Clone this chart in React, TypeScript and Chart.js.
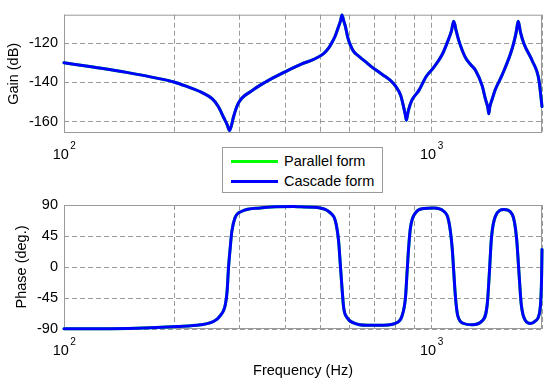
import React, { useEffect, useRef } from "react";
import { Chart, registerables } from "chart.js";

Chart.register(...registerables);

// ---- data ----
const gainFreqHz = [
  100, 120, 148, 183, 199, 214, 237, 253, 263, 272,
  278, 282, 286, 289, 298, 325, 353, 400, 444, 478,
  509, 525, 536, 548, 559, 566, 571, 577, 583, 592,
  602, 614, 634, 660, 689, 718, 749, 772, 798, 825,
  840, 849, 855, 861, 867, 885, 924, 968, 1015, 1070,
  1115, 1134, 1150, 1168, 1187, 1238, 1280, 1318, 1375, 1402,
  1425, 1433, 1442, 1464, 1490, 1558, 1660, 1701, 1723, 1748,
  1785, 1881, 1961, 2000,
];
const gainDb = [
  -130, -132.2, -134.9, -138.2, -139.8, -141.8, -145.1, -148.3, -152.3, -157.9,
  -161.5, -164.5, -161.5, -157.9, -150.7, -144.2, -139.9, -134.6, -130.6, -128.3,
  -125.3, -122.6, -119.7, -116.1, -111.5, -108.5, -105.6, -108.5, -111.3, -117,
  -121, -124.2, -126.6, -129.3, -132.2, -134.6, -137, -138.9, -141.8, -146.7,
  -152.5, -156.5, -159.3, -156.5, -153.9, -149.1, -144.2, -137, -132.3, -125.8,
  -117.7, -113.7, -108.9, -113.7, -118.6, -127.4, -131, -133.8, -141.8, -148.3,
  -153, -156, -152.5, -148.5, -144, -136.2, -122.6, -114.5, -108.9, -114.5,
  -120.2, -129, -138.6, -152.3,
];
const phaseFreqHz = [
  100, 158, 203, 235, 255, 266, 275, 278, 280.4, 283.4,
  286.4, 292, 305, 342, 422, 440, 498, 531, 548, 559,
  565, 571, 577, 589, 614, 668, 741, 807, 832, 850,
  859, 867, 877, 905, 953, 1015, 1080, 1115, 1139, 1150,
  1163, 1180, 1225, 1291, 1375, 1419, 1439, 1457, 1494, 1574,
  1660, 1705, 1730, 1756, 1804, 1861, 1920, 1973, 1994, 2000,
];
const phaseDeg = [
  -89.7, -88.8, -86.4, -83.9, -79.1, -70.9, -54.1, -34.7, -1, 27.9,
  52.1, 71.3, 81, 85.8, 87.7, 87.3, 85.8, 78.6, 66.5, 37.6,
  3.8, -30, -58.9, -73.4, -81, -84.5, -84.5, -80.6, -70.9, -44.4,
  -5.8, 27.9, 56.9, 78.6, 84.8, 85.8, 81, 66.5, 27.9, -5.8,
  -44.4, -70.9, -82, -83.9, -78.1, -54.1, -5.8, 42.4, 73.8, 83.3,
  76.1, 42.4, -5.8, -54.1, -78.1, -82, -78.1, -63.7, -20.3, 25.5,
];
const freqGridHz = [100, 200, 300, 400, 500, 600, 700, 800, 900, 1000, 2000];
const decadeLabels = [
  { value: 100, base: "10", exp: "2" },
  { value: 1000, base: "10", exp: "3" },
];
const gainTicks = [-160, -140, -120];
const phaseTicks = [-90, -45, 0, 45, 90];
const seriesNames = ["Parallel form", "Cascade form"];
const seriesColors = ["#00ff00", "#0000ff"];

const FONT = "Arial, 'Liberation Sans', sans-serif";
const FS = 14.5;
const GRID = "#9a9a9a";

const framePlugin = {
  id: "frame",
  beforeDatasetsDraw(chart: any) {
    const { ctx, chartArea: a } = chart;
    ctx.save();
    ctx.strokeStyle = GRID;
    ctx.lineWidth = 1;
    ctx.setLineDash([]);
    ctx.strokeRect(a.left + 0.5, a.top + 0.5, a.right - a.left - 1, a.bottom - a.top - 1);
    ctx.restore();
  },
  afterDraw(chart: any) {
    const { ctx, chartArea: a } = chart;
    const xs = chart.scales.x;
    ctx.save();
    ctx.fillStyle = "#000";
    ctx.textBaseline = "alphabetic";
    ctx.textAlign = "left";
    for (const d of decadeLabels) {
      const px = xs.getPixelForValue(d.value);
      ctx.font = `${FS}px ${FONT}`;
      const w1 = ctx.measureText(d.base).width;
      ctx.font = `10px ${FONT}`;
      const w2 = ctx.measureText(d.exp).width;
      const start = px - (w1 + w2 + 1) / 2;
      ctx.font = `${FS}px ${FONT}`;
      ctx.fillText(d.base, start, a.bottom + 26);
      ctx.font = `10px ${FONT}`;
      ctx.fillText(d.exp, start + w1 + 1.5, a.bottom + 15.5);
    }
    ctx.restore();
  },
};

function makeConfig(
  freqs: number[],
  vals: number[],
  yMin: number,
  yMax: number,
  yTickVals: number[],
  yTitle: string,
  yTitlePad: number,
  canvasH: number,
  plotTop: number,
  plotBottom: number,
  xTitle: string | null
): any {
  const pts = freqs.map((f, i) => ({ x: f, y: vals[i] }));
  return {
    type: "line",
    data: {
      datasets: seriesNames.map((name, i) => ({
        label: name,
        data: pts,
        borderColor: seriesColors[i],
        backgroundColor: seriesColors[i],
        borderWidth: 3,
        borderJoinStyle: "round",
        borderCapStyle: "round",
        pointRadius: 0,
        fill: false,
        cubicInterpolationMode: "monotone",
        clip: false,
        order: i === 1 ? 0 : 1,
      })),
    },
    options: {
      animation: false,
      responsive: false,
      events: [],
      layout: { padding: { left: 0, right: 8, top: plotTop, bottom: 0 } },
      plugins: { legend: { display: false }, tooltip: { enabled: false } },
      scales: {
        x: {
          type: "logarithmic",
          min: 100,
          max: 2000,
          afterBuildTicks: (s: any) => {
            s.ticks = freqGridHz.map((v) => ({ value: v }));
          },
          afterFit: (s: any) => {
            s.height = canvasH - plotBottom;
          },
          ticks: { display: false },
          grid: { color: GRID, drawTicks: false, lineWidth: 1 },
          border: { display: false, dash: [5, 3] },
          title: xTitle
            ? {
                display: true,
                text: xTitle,
                color: "#000",
                font: { family: FONT, size: FS },
                padding: { top: 0, bottom: 5.3 },
              }
            : { display: false },
        },
        y: {
          type: "linear",
          min: yMin,
          max: yMax,
          afterBuildTicks: (s: any) => {
            s.ticks = yTickVals.map((v) => ({ value: v }));
          },
          afterFit: (s: any) => {
            s.width = 64;
          },
          ticks: {
            color: "#000",
            font: { family: FONT, size: FS },
            padding: 6,
          },
          grid: { color: GRID, drawTicks: false, lineWidth: 1 },
          border: { display: false, dash: [5, 3] },
          title: {
            display: true,
            text: yTitle,
            color: "#000",
            font: { family: FONT, size: FS },
            padding: { top: yTitlePad, bottom: 0 },
          },
        },
      },
    },
    plugins: [framePlugin],
  };
}

export default function App() {
  const topRef = useRef<HTMLCanvasElement | null>(null);
  const botRef = useRef<HTMLCanvasElement | null>(null);

  useEffect(() => {
    const c1 = new Chart(
      topRef.current as HTMLCanvasElement,
      makeConfig(gainFreqHz, gainDb, -165.8, -105.5, gainTicks, "Gain (dB)", 5.5, 160, 8, 133, null)
    );
    const c2 = new Chart(
      botRef.current as HTMLCanvasElement,
      makeConfig(phaseFreqHz, phaseDeg, -90, 90, phaseTicks, "Phase (deg.)", 13.3, 195, 15, 139, "Frequency (Hz)")
    );
    return () => {
      c1.destroy();
      c2.destroy();
    };
  }, []);

  return (
    <div
      style={{
        position: "fixed",
        left: 0,
        top: 0,
        width: 550,
        height: 385,
        background: "#fff",
        overflow: "hidden",
      }}
    >
      <canvas
        ref={topRef}
        width={550}
        height={160}
        style={{ position: "absolute", left: 0, top: 0, width: 550, height: 160 }}
      />
      <canvas
        ref={botRef}
        width={550}
        height={195}
        style={{ position: "absolute", left: 0, top: 190, width: 550, height: 195 }}
      />
      <div
        style={{
          position: "absolute",
          left: 222,
          top: 147,
          width: 161,
          height: 46,
          boxSizing: "border-box",
          border: `1px solid ${GRID}`,
          background: "#fff",
          fontFamily: FONT,
          fontSize: FS,
          color: "#000",
          zIndex: 2,
        }}
      >
        {seriesNames.map((name, i) => (
          <div key={name} style={{ position: "absolute", left: 0, top: 4 + i * 19.5, height: 18, width: "100%" }}>
            <div
              style={{
                position: "absolute",
                left: 8,
                top: 8,
                width: 47,
                height: 3,
                background: seriesColors[i],
              }}
            />
            <div style={{ position: "absolute", left: 61, top: 0, lineHeight: "18px", whiteSpace: "nowrap" }}>
              {name}
            </div>
          </div>
        ))}
      </div>
    </div>
  );
}
